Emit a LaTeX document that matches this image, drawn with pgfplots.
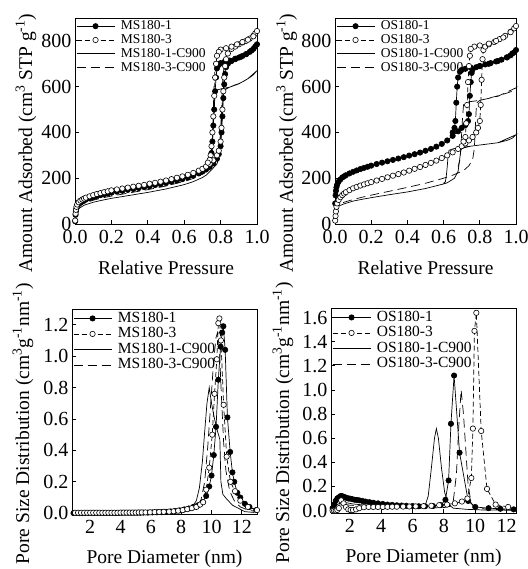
\documentclass[border=0pt]{standalone}
\usepackage{fontspec}
\setmainfont{Liberation Serif}
\usepackage{pgfplots}
\pgfplotsset{compat=1.18}
\pgfplotsset{
  legend image code/.code={\draw[mark repeat=2,mark phase=2,#1] plot coordinates {(0pt,0pt) (19pt,0pt) (38pt,0pt)};},
  panel/.style={
    scale only axis, anchor=south west,
    tick align=inside, xtick pos=bottom, ytick pos=left,
    axis line style={line width=0.8pt},
    every tick/.style={black, line width=0.8pt},
    major tick length=4pt,
    tick label style={font=\fontsize{20}{21}\selectfont},
    xticklabel style={yshift=-2.5pt},
    label style={font=\fontsize{19.5}{20}\selectfont},
    /pgf/number format/assume math mode=true,
    legend cell align=left,
    clip=false,
  },
  legtop/.style={legend style={draw=none, fill=none, at={(0,1)}, anchor=north west,
    inner xsep=1pt, inner ysep=2pt, row sep=1.8pt, column sep=6pt,
    font=\fontsize{13.5}{14}\selectfont,
    nodes={inner sep=0pt, text height=9.5pt, text depth=2.5pt}}},
  legbot/.style={legend style={draw=none, fill=none, at={(0,1)}, anchor=north west,
    inner xsep=1pt, inner ysep=2.5pt, row sep=2pt, column sep=6pt,
    font=\fontsize{15.5}{16}\selectfont,
    nodes={inner sep=0pt, text height=10.5pt, text depth=3pt}}},
  sA/.style={black, line width=0.7pt, solid, mark=*, mark size=2.7pt, mark options={solid, fill=black, line width=0.6pt}},
  sB/.style={black, line width=0.7pt, dash pattern=on 5pt off 3pt, mark=*, mark size=2.7pt, mark options={solid, fill=white, line width=0.6pt}},
  sC/.style={black, line width=0.7pt, solid, no markers},
  sD/.style={black, line width=0.7pt, dash pattern=on 9pt off 5pt, no markers},
}
\begin{document}
\begin{tikzpicture}
\path[use as bounding box] (0pt,0pt) rectangle (527pt,569pt);

% ---------------- Panel 1 ----------------
\begin{axis}[panel, legtop, at={(75pt,345pt)}, width=182pt, height=206pt,
  xmin=0, xmax=1, ymin=0, ymax=900,
  xtick={0,0.2,0.4,0.6,0.8,1}, ytick={0,200,400,600,800},
  xticklabel style={/pgf/number format/.cd, fixed, fixed zerofill, precision=1},
  xlabel={Relative Pressure},
  ylabel={Amount Adsorbed (cm\textsuperscript{3} STP g\textsuperscript{-1})},
  xlabel style={at={(axis description cs:0.5,0)}, anchor=center, yshift=-44pt},
  ylabel style={at={(rel axis cs:-0.269,0.393)}, anchor=center},
]
\addplot[sA] coordinates {(0.001,12)(0.003,40)(0.005,56)(0.008,68)(0.012,78)(0.02,87)(0.03,94)(0.04,99)(0.05,103)(0.06,107)(0.08,112)(0.10,117)(0.12,122)(0.14,126)(0.16,130)(0.18,133)(0.20,137)(0.23,141)(0.26,145)(0.29,149)(0.32,153)(0.35,157)(0.38,161)(0.41,165)(0.44,170)(0.47,174)(0.50,179)(0.53,184)(0.56,190)(0.59,196)(0.62,203)(0.65,211)(0.68,221)(0.70,229)(0.72,238)(0.74,250)(0.76,265)(0.78,285)(0.79,305)(0.80,340)(0.805,400)(0.81,470)(0.815,550)(0.82,610)(0.825,655)(0.83,685)(0.84,700)(0.86,712)(0.88,720)(0.90,727)(0.92,734)(0.94,742)(0.96,752)(0.98,765)(0.99,775)(1.0,785)
(0.97,758)(0.94,742)(0.91,730)(0.88,722)(0.85,714)(0.82,708)(0.80,703)(0.79,695)(0.78,680)(0.775,640)(0.77,580)(0.765,500)(0.76,430)(0.755,360)(0.75,310)(0.745,280)(0.74,265)(0.73,255)};
\addlegendentry{MS180-1}
\addplot[sB] coordinates {(0.001,15)(0.003,45)(0.005,62)(0.008,75)(0.012,85)(0.02,95)(0.03,102)(0.04,107)(0.05,111)(0.06,115)(0.08,121)(0.10,126)(0.12,131)(0.14,135)(0.16,139)(0.18,143)(0.20,147)(0.23,151)(0.26,155)(0.29,159)(0.32,163)(0.35,167)(0.38,171)(0.41,176)(0.44,180)(0.47,185)(0.50,190)(0.53,196)(0.56,202)(0.59,208)(0.62,215)(0.65,223)(0.68,233)(0.70,241)(0.72,251)(0.74,263)(0.76,278)(0.78,300)(0.79,320)(0.80,360)(0.805,420)(0.81,500)(0.815,580)(0.82,640)(0.825,690)(0.83,720)(0.84,745)(0.86,765)(0.88,775)(0.90,785)(0.92,793)(0.94,800)(0.96,810)(0.98,822)(0.99,832)(1.0,843)
(0.98,820)(0.95,805)(0.92,795)(0.89,785)(0.86,775)(0.83,768)(0.80,762)(0.79,752)(0.78,735)(0.775,700)(0.77,640)(0.765,560)(0.76,470)(0.755,400)(0.75,340)(0.745,300)(0.74,280)(0.73,268)};
\addlegendentry{MS180-3}
\addplot[sC] coordinates {(0.001,10)(0.005,40)(0.01,55)(0.02,67)(0.05,82)(0.1,95)(0.15,104)(0.2,112)(0.3,125)(0.4,138)(0.5,153)(0.6,172)(0.65,185)(0.7,203)(0.72,213)(0.74,228)(0.76,245)(0.78,262)(0.79,290)(0.80,360)(0.805,460)(0.81,540)(0.815,575)(0.82,585)(0.85,598)(0.88,608)(0.9,613)(0.93,625)(0.96,640)(0.98,652)(1.0,670)
(0.95,635)(0.9,612)(0.85,598)(0.8,590)(0.78,585)(0.77,580)(0.765,540)(0.76,440)(0.755,330)(0.75,260)(0.74,235)};
\addlegendentry{MS180-1-C900}
\addplot[sD] coordinates {(0.001,12)(0.005,48)(0.01,62)(0.02,75)(0.05,90)(0.1,104)(0.15,114)(0.2,122)(0.3,136)(0.4,150)(0.5,166)(0.6,186)(0.65,199)(0.7,218)(0.72,230)(0.74,245)(0.76,262)(0.78,285)(0.79,320)(0.80,400)(0.805,500)(0.81,600)(0.815,660)(0.82,690)(0.85,710)(0.88,722)(0.9,730)(0.93,740)(0.96,752)(0.98,762)(1.0,778)
(0.95,748)(0.9,730)(0.85,715)(0.8,705)(0.78,700)(0.77,690)(0.765,620)(0.76,500)(0.755,380)(0.75,300)(0.74,265)};
\addlegendentry{MS180-3-C900}
\end{axis}

% ---------------- Panel 2 ----------------
\begin{axis}[panel, legtop, at={(335pt,345pt)}, width=181pt, height=206pt,
  xmin=0, xmax=1, ymin=0, ymax=900,
  xtick={0,0.2,0.4,0.6,0.8,1}, ytick={0,200,400,600,800},
  xticklabel style={/pgf/number format/.cd, fixed, fixed zerofill, precision=1},
  xlabel={Relative Pressure},
  ylabel={Amount Adsorbed (cm\textsuperscript{3} STP g\textsuperscript{-1})},
  xlabel style={at={(axis description cs:0.5,0)}, anchor=center, yshift=-44pt},
  ylabel style={at={(rel axis cs:-0.267,0.393)}, anchor=center},
]
\addplot[sA] coordinates {(0.001,90)(0.003,125)(0.005,145)(0.008,160)(0.012,172)(0.02,185)(0.03,195)(0.04,203)(0.05,208)(0.06,213)(0.08,221)(0.10,228)(0.12,234)(0.14,240)(0.16,245)(0.18,250)(0.20,255)(0.23,262)(0.26,268)(0.29,274)(0.32,280)(0.35,286)(0.38,292)(0.41,299)(0.44,305)(0.47,312)(0.50,320)(0.53,328)(0.56,338)(0.59,350)(0.62,365)(0.65,385)(0.68,405)(0.70,420)(0.72,432)(0.735,450)(0.74,480)(0.745,560)(0.75,620)(0.755,660)(0.76,675)(0.78,685)(0.80,690)(0.83,697)(0.86,703)(0.89,710)(0.92,718)(0.95,728)(0.97,737)(0.99,750)(1.0,760)
(0.98,745)(0.95,728)(0.90,712)(0.85,700)(0.80,690)(0.75,683)(0.72,678)(0.70,673)(0.69,665)(0.68,640)(0.675,600)(0.67,530)(0.665,450)(0.66,420)(0.65,400)};
\addlegendentry{OS180-1}
\addplot[sB] coordinates {(0.001,15)(0.003,35)(0.005,55)(0.008,75)(0.012,90)(0.02,105)(0.03,117)(0.04,126)(0.05,133)(0.06,139)(0.08,148)(0.10,156)(0.12,162)(0.14,168)(0.16,173)(0.18,178)(0.20,183)(0.23,190)(0.26,197)(0.29,204)(0.32,211)(0.35,218)(0.38,225)(0.41,233)(0.44,241)(0.47,249)(0.50,258)(0.53,267)(0.56,277)(0.59,288)(0.62,300)(0.65,313)(0.68,328)(0.70,340)(0.72,352)(0.74,365)(0.76,380)(0.78,400)(0.79,420)(0.80,450)(0.805,520)(0.81,630)(0.815,720)(0.82,760)(0.83,775)(0.85,785)(0.88,795)(0.91,808)(0.94,822)(0.97,840)(0.99,855)(1.0,865)
(0.97,838)(0.93,815)(0.89,800)(0.85,788)(0.80,780)(0.77,775)(0.75,765)(0.745,735)(0.74,690)(0.735,620)(0.73,520)(0.725,440)(0.72,380)(0.71,360)};
\addlegendentry{OS180-3}
\addplot[sC] coordinates {(0.001,40)(0.005,60)(0.01,70)(0.02,78)(0.05,88)(0.1,100)(0.15,108)(0.2,115)(0.3,128)(0.4,140)(0.5,155)(0.55,165)(0.6,175)(0.62,180)(0.64,190)(0.66,200)(0.68,230)(0.69,290)(0.695,320)(0.70,330)(0.75,340)(0.8,345)(0.85,350)(0.9,355)(0.95,365)(0.98,375)(1.0,390)
(0.9,355)(0.8,345)(0.7,335)(0.65,328)(0.63,322)(0.625,300)(0.62,250)(0.615,210)(0.61,185)(0.60,178)};
\addlegendentry{OS180-1-C900}
\addplot[sD] coordinates {(0.001,50)(0.005,70)(0.01,78)(0.02,85)(0.05,95)(0.1,107)(0.15,117)(0.2,126)(0.3,143)(0.4,160)(0.5,178)(0.6,200)(0.65,213)(0.7,230)(0.72,240)(0.74,255)(0.76,280)(0.77,330)(0.775,420)(0.78,500)(0.785,530)(0.8,540)(0.85,550)(0.9,560)(0.95,572)(0.98,580)(1.0,595)
(0.9,558)(0.8,540)(0.75,535)(0.72,530)(0.71,520)(0.705,470)(0.70,400)(0.695,330)(0.69,280)(0.68,250)};
\addlegendentry{OS180-3-C900}
\end{axis}

% ---------------- Panel 3 ----------------
\begin{axis}[panel, legbot, at={(72pt,55pt)}, width=185pt, height=205pt,
  xmin=0.8, xmax=13, ymin=-0.005, ymax=1.3,
  xtick={2,4,6,8,10,12}, ytick={0,0.2,0.4,0.6,0.8,1.0,1.2},
  yticklabel style={/pgf/number format/.cd, fixed, fixed zerofill, precision=1},
  xlabel={Pore Diameter (nm)},
  ylabel={Pore Size Distribution (cm\textsuperscript{3}g\textsuperscript{-1}nm\textsuperscript{-1})},
  xlabel style={at={(axis description cs:0.5,0)}, anchor=center, yshift=-45pt},
  ylabel style={at={(rel axis cs:-0.265,0.44)}, anchor=center},
]
\addplot[sA] coordinates {(0.9,0.001)(1.1,0.001)(1.3,0.001)(1.5,0.001)(1.7,0.002)(1.9,0.002)(2.1,0.002)(2.3,0.002)(2.5,0.002)(2.7,0.002)(2.9,0.002)(3.1,0.002)(3.3,0.002)(3.5,0.002)(3.7,0.002)(3.9,0.002)(4.1,0.003)(4.3,0.003)(4.5,0.003)(4.7,0.003)(4.9,0.003)(5.1,0.003)(5.3,0.003)(5.5,0.004)(5.8,0.004)(6.1,0.005)(6.4,0.006)(6.7,0.007)(7.0,0.009)(7.3,0.011)(7.6,0.014)(7.9,0.018)(8.2,0.024)(8.5,0.03)(8.8,0.04)(9.1,0.05)(9.4,0.07)(9.65,0.11)(9.85,0.17)(10.0,0.24)(10.15,0.37)(10.3,0.55)(10.45,0.85)(10.6,1.06)(10.7,1.15)(10.78,1.19)(10.9,1.04)(11.05,0.61)(11.23,0.39)(11.38,0.26)(11.5,0.2)(11.7,0.13)(11.9,0.1)(12.2,0.06)(12.5,0.04)(12.95,0.02)};
\addlegendentry{MS180-1}
\addplot[sB] coordinates {(1.0,0.003)(1.2,0.003)(1.4,0.003)(1.6,0.003)(1.8,0.003)(2.0,0.003)(2.2,0.003)(2.4,0.003)(2.6,0.003)(2.8,0.003)(3.0,0.003)(3.2,0.003)(3.4,0.003)(3.6,0.003)(3.8,0.003)(4.0,0.004)(4.2,0.004)(4.4,0.004)(4.6,0.004)(4.8,0.004)(5.0,0.004)(5.2,0.005)(5.4,0.005)(5.65,0.005)(5.95,0.006)(6.25,0.007)(6.55,0.008)(6.85,0.009)(7.2,0.01)(7.5,0.012)(7.8,0.016)(8.1,0.02)(8.4,0.026)(8.7,0.032)(9.0,0.04)(9.25,0.055)(9.45,0.07)(9.65,0.15)(9.85,0.29)(10.05,0.5)(10.2,0.76)(10.35,0.98)(10.45,1.21)(10.52,1.24)(10.62,1.1)(10.8,0.69)(11.0,0.36)(11.25,0.2)(11.55,0.14)(11.9,0.08)(12.4,0.04)(13.0,0.02)};
\addlegendentry{MS180-3}
\addplot[sC] coordinates {(0.9,0)(3,0)(6,0.002)(7,0.005)(7.5,0.008)(8,0.015)(8.5,0.03)(8.8,0.05)(9.0,0.08)(9.2,0.16)(9.4,0.33)(9.55,0.52)(9.7,0.7)(9.85,0.8)(10.0,0.7)(10.2,0.6)(10.4,0.52)(10.55,0.47)(10.62,0.2)(10.75,0.12)(11.0,0.09)(11.4,0.05)(11.8,0.03)(12.2,0.01)(12.8,0.005)};
\addlegendentry{MS180-1-C900}
\addplot[sD] coordinates {(0.9,0)(3,0.001)(6,0.003)(7,0.006)(8,0.015)(8.5,0.025)(9,0.04)(9.3,0.08)(9.55,0.2)(9.75,0.42)(9.95,0.7)(10.15,0.98)(10.3,1.12)(10.4,1.15)(10.52,1.05)(10.65,0.75)(10.8,0.45)(10.95,0.27)(11.2,0.14)(11.5,0.08)(11.9,0.04)(12.4,0.02)(13,0.01)};
\addlegendentry{MS180-3-C900}
\end{axis}

% ---------------- Panel 4 ----------------
\begin{axis}[panel, legbot, at={(331pt,56pt)}, width=185pt, height=205pt,
  xmin=0.8, xmax=12.6, ymin=-0.02, ymax=1.68,
  xtick={2,4,6,8,10,12}, ytick={0,0.2,0.4,0.6,0.8,1.0,1.2,1.4,1.6},
  yticklabel style={/pgf/number format/.cd, fixed, fixed zerofill, precision=1},
  xlabel={Pore Diameter (nm)},
  ylabel={Pore Size Distribution (cm\textsuperscript{3}g\textsuperscript{-1}nm\textsuperscript{-1})},
  xlabel style={at={(axis description cs:0.5,0)}, anchor=center, yshift=-45pt},
  ylabel style={at={(rel axis cs:-0.26,0.44)}, anchor=center},
]
\addplot[sA] coordinates {(0.9,0.02)(1.0,0.05)(1.1,0.08)(1.2,0.1)(1.3,0.11)(1.4,0.12)(1.5,0.12)(1.6,0.115)(1.7,0.11)(1.8,0.105)(1.9,0.1)(2.0,0.1)(2.15,0.095)(2.3,0.09)(2.45,0.088)(2.6,0.085)(2.8,0.08)(3.0,0.075)(3.25,0.07)(3.5,0.065)(3.8,0.06)(4.1,0.055)(4.4,0.05)(4.7,0.047)(5.0,0.044)(5.3,0.042)(5.6,0.04)(6.0,0.038)(6.4,0.036)(6.8,0.036)(7.3,0.038)(7.8,0.045)(8.1,0.09)(8.3,0.25)(8.45,0.72)(8.65,1.12)(9.0,0.48)(9.55,0.08)(10.0,0.03)(10.85,0.02)(11.6,0.015)(12.45,0.01)};
\addlegendentry{OS180-1}
\addplot[sB] coordinates {(0.9,0)(1.0,0)(1.1,0)(1.2,0.005)(1.3,0.02)(1.45,0.085)(1.6,0.06)(1.75,0.03)(1.9,0.01)(2.05,0.005)(2.2,0.005)(2.4,0.01)(2.6,0.02)(2.9,0.028)(3.2,0.03)(3.5,0.03)(3.8,0.03)(4.1,0.03)(4.4,0.031)(4.7,0.032)(5.0,0.032)(5.4,0.033)(5.8,0.034)(6.2,0.035)(6.7,0.037)(7.2,0.04)(7.7,0.045)(8.2,0.05)(8.7,0.06)(9.15,0.075)(9.5,0.1)(9.75,0.27)(9.85,0.68)(9.95,1.49)(10.07,1.64)(10.38,0.66)(10.75,0.18)(11.3,0.05)(12.1,0.03)};
\addlegendentry{OS180-3}
\addplot[sC] coordinates {(0.9,0.02)(1.2,0.05)(1.5,0.07)(1.8,0.065)(2.2,0.055)(3,0.045)(4,0.035)(5,0.028)(6,0.022)(6.5,0.022)(6.8,0.04)(7.0,0.12)(7.2,0.35)(7.4,0.6)(7.52,0.68)(7.65,0.6)(7.85,0.35)(8.05,0.15)(8.3,0.05)(8.6,0.02)(9.5,0.01)(10.5,0.005)(12.5,0.003)};
\addlegendentry{OS180-1-C900}
\addplot[sD] coordinates {(0.9,0)(1.2,0.03)(1.5,0.05)(2.0,0.045)(3,0.035)(4,0.028)(5,0.024)(6,0.022)(7,0.022)(8,0.025)(8.4,0.035)(8.6,0.08)(8.8,0.3)(8.95,0.7)(9.1,1.0)(9.25,0.8)(9.4,0.5)(9.55,0.2)(9.75,0.06)(10.0,0.02)(11,0.01)(12.5,0.005)};
\addlegendentry{OS180-3-C900}
\end{axis}
\end{tikzpicture}
\end{document}
